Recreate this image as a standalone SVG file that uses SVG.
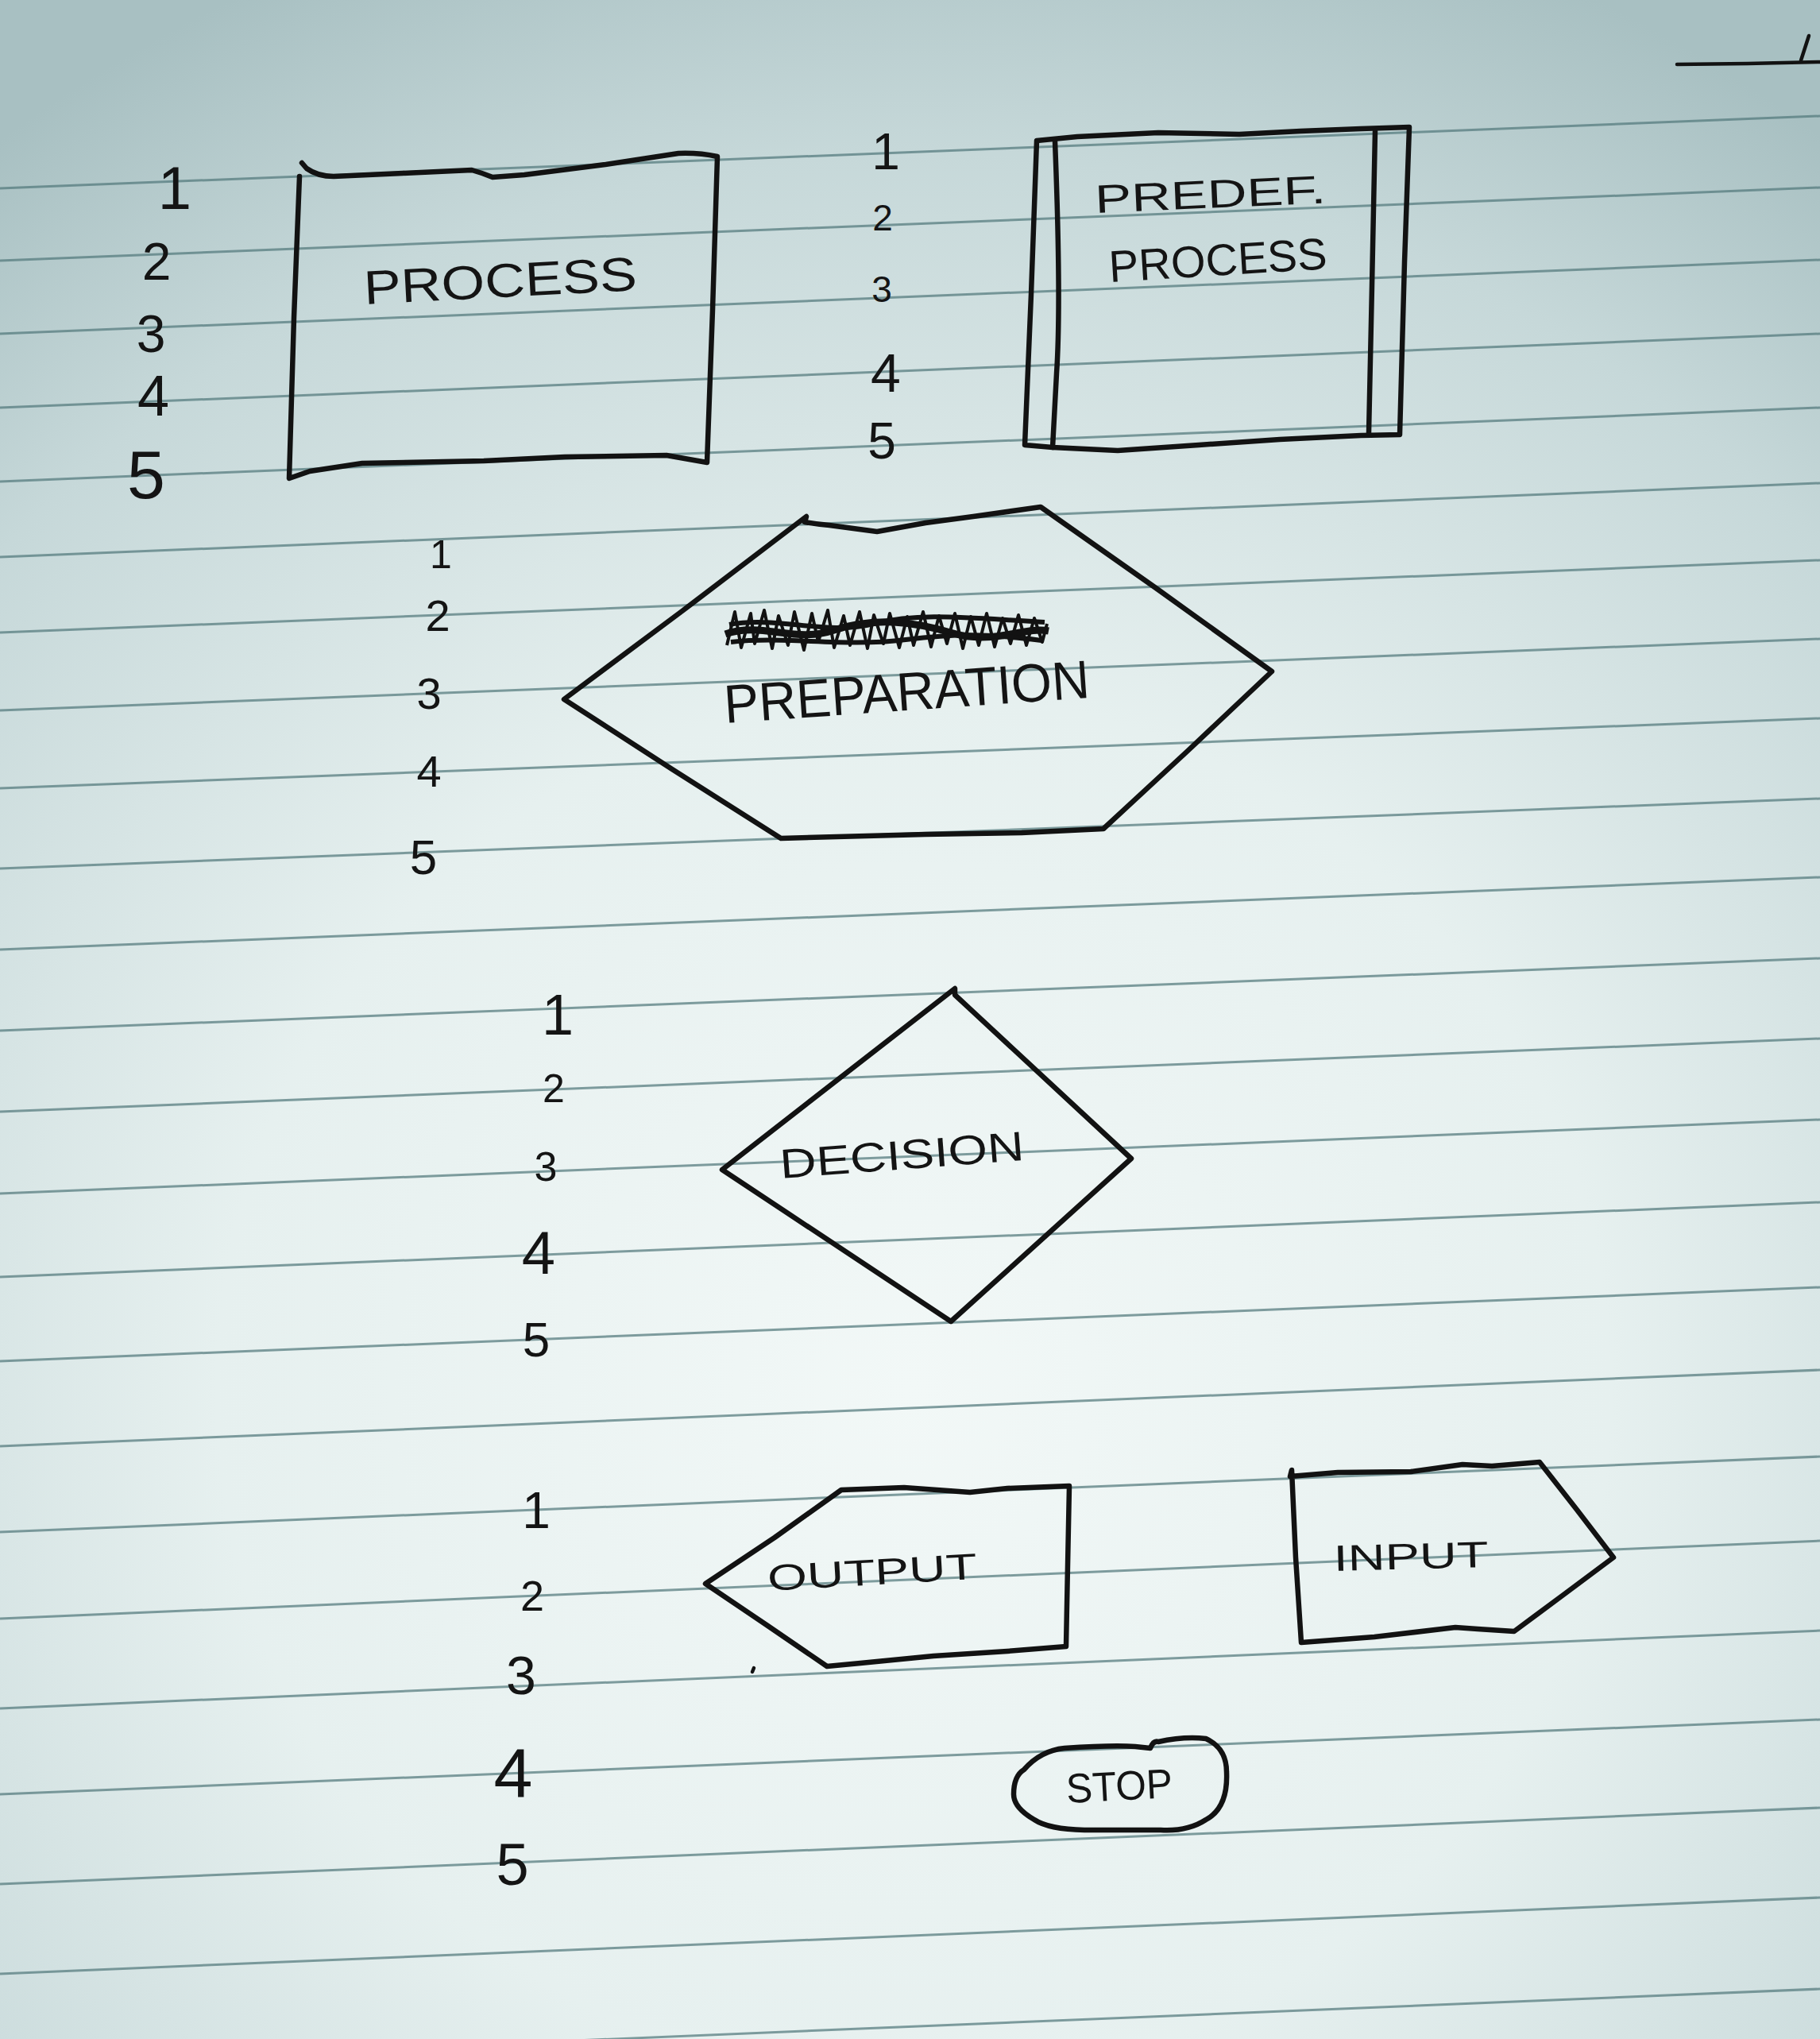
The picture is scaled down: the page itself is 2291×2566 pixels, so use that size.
<svg xmlns="http://www.w3.org/2000/svg" width="2291" height="2566" viewBox="0 0 2291 2566">
<defs>
<radialGradient id="paper" gradientUnits="userSpaceOnUse" cx="1150" cy="1750" r="1950">
<stop offset="0" stop-color="#f2f8f7"/>
<stop offset="0.45" stop-color="#e6f0ef"/>
<stop offset="0.8" stop-color="#c6d8d9"/>
<stop offset="1" stop-color="#a8c0c2"/>
</radialGradient>
<style>
.rule{stroke:#52797c;stroke-width:3;opacity:0.72;fill:none}
.ink{fill:none;stroke:#121212;stroke-width:6.5;stroke-linejoin:round;stroke-linecap:round}
.thin{fill:none;stroke:#121212;stroke-width:4.5;stroke-linejoin:round;stroke-linecap:round}
.num{font-family:"Liberation Sans",Arial,sans-serif;fill:#141414;text-anchor:middle}
.lbl{font-family:"Liberation Sans",Arial,sans-serif;fill:#141414}
</style>
</defs>
<rect x="0" y="0" width="2291" height="2566" fill="url(#paper)"/>
<g id="ruled-lines">
<line class="rule" x1="0" y1="237" x2="2291" y2="146"/>
<line class="rule" x1="0" y1="328" x2="2291" y2="236"/>
<line class="rule" x1="0" y1="420" x2="2291" y2="327"/>
<line class="rule" x1="0" y1="513" x2="2291" y2="420"/>
<line class="rule" x1="0" y1="606" x2="2291" y2="513"/>
<line class="rule" x1="0" y1="701" x2="2291" y2="608"/>
<line class="rule" x1="0" y1="796" x2="2291" y2="705"/>
<line class="rule" x1="0" y1="894" x2="2291" y2="804"/>
<line class="rule" x1="0" y1="992" x2="2291" y2="904"/>
<line class="rule" x1="0" y1="1093" x2="2291" y2="1005"/>
<line class="rule" x1="0" y1="1195" x2="2291" y2="1104"/>
<line class="rule" x1="0" y1="1297" x2="2291" y2="1206"/>
<line class="rule" x1="0" y1="1399" x2="2291" y2="1307"/>
<line class="rule" x1="0" y1="1502" x2="2291" y2="1409"/>
<line class="rule" x1="0" y1="1607" x2="2291" y2="1513"/>
<line class="rule" x1="0" y1="1713" x2="2291" y2="1620"/>
<line class="rule" x1="0" y1="1820" x2="2291" y2="1724"/>
<line class="rule" x1="0" y1="1928" x2="2291" y2="1833"/>
<line class="rule" x1="0" y1="2037" x2="2291" y2="1939"/>
<line class="rule" x1="0" y1="2150" x2="2291" y2="2052"/>
<line class="rule" x1="0" y1="2258" x2="2291" y2="2164"/>
<line class="rule" x1="0" y1="2371" x2="2291" y2="2275"/>
<line class="rule" x1="0" y1="2484" x2="2291" y2="2388"/>
<line class="rule" x1="0" y1="2598" x2="2291" y2="2503"/>
</g>
<g id="page-mark">
<path class="thin" d="M2111,81 L2200,80 L2291,78"/>
<path class="thin" d="M2277,45 L2267,76"/>
</g>
<g id="process">
<path class="ink" d="M380,205 L386,212 Q400,222 420,222 L507,218 L594,214 Q608,218 620,223 L660,220 L762,207 L854,193 Q880,192 903,197 L897,390 L890,582 L839,573 L711,575 L609,580 L456,583 L390,593 L364,602 L370,400 L377,222"/>
<text class="lbl" x="459" y="383" font-size="60" textLength="344" lengthAdjust="spacingAndGlyphs" transform="rotate(-3 459 383)">PROCESS</text>
<text class="num" x="220" y="263" font-size="76">1</text>
<text class="num" x="197" y="352" font-size="66">2</text>
<text class="num" x="190" y="443" font-size="66">3</text>
<text class="num" x="193" y="523" font-size="72">4</text>
<text class="num" x="184" y="627" font-size="86">5</text>
</g>
<g id="predefined-process">
<path class="ink" d="M1305,177 L1356,172 L1458,167 L1560,169 L1637,165 L1713,162 L1774,160 L1768,330 L1762,547 L1713,548 L1611,553 L1509,560 L1407,567 L1325,563 L1290,560 L1298,370 Z"/>
<path class="ink" d="M1328,178 Q1336,380 1330,470 L1325,563"/>
<path class="ink" d="M1731,165 L1727,360 L1723,545"/>
<text class="lbl" x="1379" y="268" font-size="50" textLength="291" lengthAdjust="spacingAndGlyphs" transform="rotate(-2.5 1379 268)">PREDEF.</text>
<text class="lbl" x="1397" y="355" font-size="56" textLength="275" lengthAdjust="spacingAndGlyphs" transform="rotate(-3.5 1397 355)">PROCESS</text>
<text class="num" x="1115" y="213" font-size="64">1</text>
<text class="num" x="1111" y="290" font-size="46">2</text>
<text class="num" x="1110" y="380" font-size="46">3</text>
<text class="num" x="1115" y="493" font-size="68">4</text>
<text class="num" x="1110" y="577" font-size="64">5</text>
</g>
<g id="preparation">
<path class="ink" d="M1015,650 L1013,657 Q1030,660 1044,661 L1104,669 L1165,658 L1225,650 L1310,638 L1455,740 L1601,845 L1495,945 L1389,1043 L1286,1048 L1165,1050 L983,1055 L846,968 L710,880 L860,768 Z"/>
<g id="scribble">
<path fill="none" stroke="#121212" stroke-width="4" stroke-linejoin="round" d="M915,812 L925,770 L933,815 L945,772 L950,810 L962,768 L972,816 L980,775 L992,812 L1000,770 L1012,818 L1022,772 L1030,808 L1042,768 L1050,815 L1062,775 L1070,812 L1082,770 L1092,816 L1100,774 L1112,810 L1120,772 L1132,815 L1142,776 L1150,812 L1162,770 L1172,814 L1182,775 L1192,810 L1202,772 L1212,816 L1222,776 L1232,812 L1242,772 L1252,814 L1262,778 L1272,810 L1282,774 L1292,812 L1302,778 L1312,808 L1318,785"/>
<path fill="none" stroke="#121212" stroke-width="9" d="M913,798 C960,782 1000,810 1050,793 S1150,782 1200,797 S1290,788 1320,794"/>
<path fill="none" stroke="#121212" stroke-width="6" d="M918,786 C980,775 1040,800 1100,785 S1220,778 1315,783 M920,808 C990,800 1060,815 1140,805 S1260,800 1312,806"/>
</g>
<text class="lbl" x="913" y="910" font-size="68" textLength="461" lengthAdjust="spacingAndGlyphs" transform="rotate(-4 913 910)">PREPARATION</text>
<text class="num" x="555" y="715" font-size="50">1</text>
<text class="num" x="551" y="794" font-size="56">2</text>
<text class="num" x="540" y="892" font-size="56">3</text>
<text class="num" x="540" y="990" font-size="56">4</text>
<text class="num" x="533" y="1100" font-size="62">5</text>
</g>
<g id="decision">
<path class="ink" d="M1202,1244 L1202,1252 L1424,1458 L1197,1663 L909,1472 Z"/>
<text class="lbl" x="983" y="1483" font-size="52" textLength="308" lengthAdjust="spacingAndGlyphs" transform="rotate(-4.3 983 1483)">DECISION</text>
<text class="num" x="702" y="1302" font-size="72">1</text>
<text class="num" x="697" y="1387" font-size="50">2</text>
<text class="num" x="687" y="1486" font-size="52">3</text>
<text class="num" x="678" y="1603" font-size="76">4</text>
<text class="num" x="675" y="1707" font-size="62">5</text>
</g>
<g id="output">
<path class="ink" d="M1059,1875 L1138,1872 L1221,1878 L1268,1873 L1346,1870 L1344,1970 L1342,2072 L1268,2078 L1175,2084 L1083,2093 L1041,2097 L965,2045 L888,1993 L975,1935 Z"/>
<path class="thin" d="M949,2099 L947,2104"/>
<text class="lbl" x="967" y="2002" font-size="46" textLength="264" lengthAdjust="spacingAndGlyphs" transform="rotate(-3.3 967 2002)">OUTPUT</text>
<text class="num" x="675" y="1923" font-size="64">1</text>
<text class="num" x="670" y="2027" font-size="54">2</text>
<text class="num" x="656" y="2132" font-size="68">3</text>
<text class="num" x="646" y="2262" font-size="88">4</text>
<text class="num" x="645" y="2372" font-size="74">5</text>
</g>
<g id="input">
<path class="ink" d="M1626,1850 L1624,1858 L1684,1853 L1776,1852 L1841,1843 L1878,1845 L1938,1840 L1985,1900 L2031,1960 L1968,2007 L1906,2053 L1860,2050 L1832,2048 L1730,2060 L1638,2067 L1631,1960 Z"/>
<text class="lbl" x="1679" y="1977" font-size="46" textLength="195" lengthAdjust="spacingAndGlyphs" transform="rotate(-1.5 1679 1977)">INPUT</text>
</g>
<g id="stop">
<path class="ink" d="M1448,2200 Q1452,2190 1458,2192 Q1490,2185 1518,2188 Q1544,2200 1544,2230 Q1546,2275 1518,2290 Q1495,2305 1461,2303 L1365,2303 Q1320,2302 1302,2290 Q1276,2275 1276,2258 Q1276,2235 1289,2227 Q1310,2203 1340,2200 Q1400,2196 1429,2198 Z"/>
<text class="lbl" x="1343" y="2269" font-size="52" textLength="134" lengthAdjust="spacingAndGlyphs" transform="rotate(-3 1343 2269)">STOP</text>
</g>
<g id="connectors"/>
</svg>
